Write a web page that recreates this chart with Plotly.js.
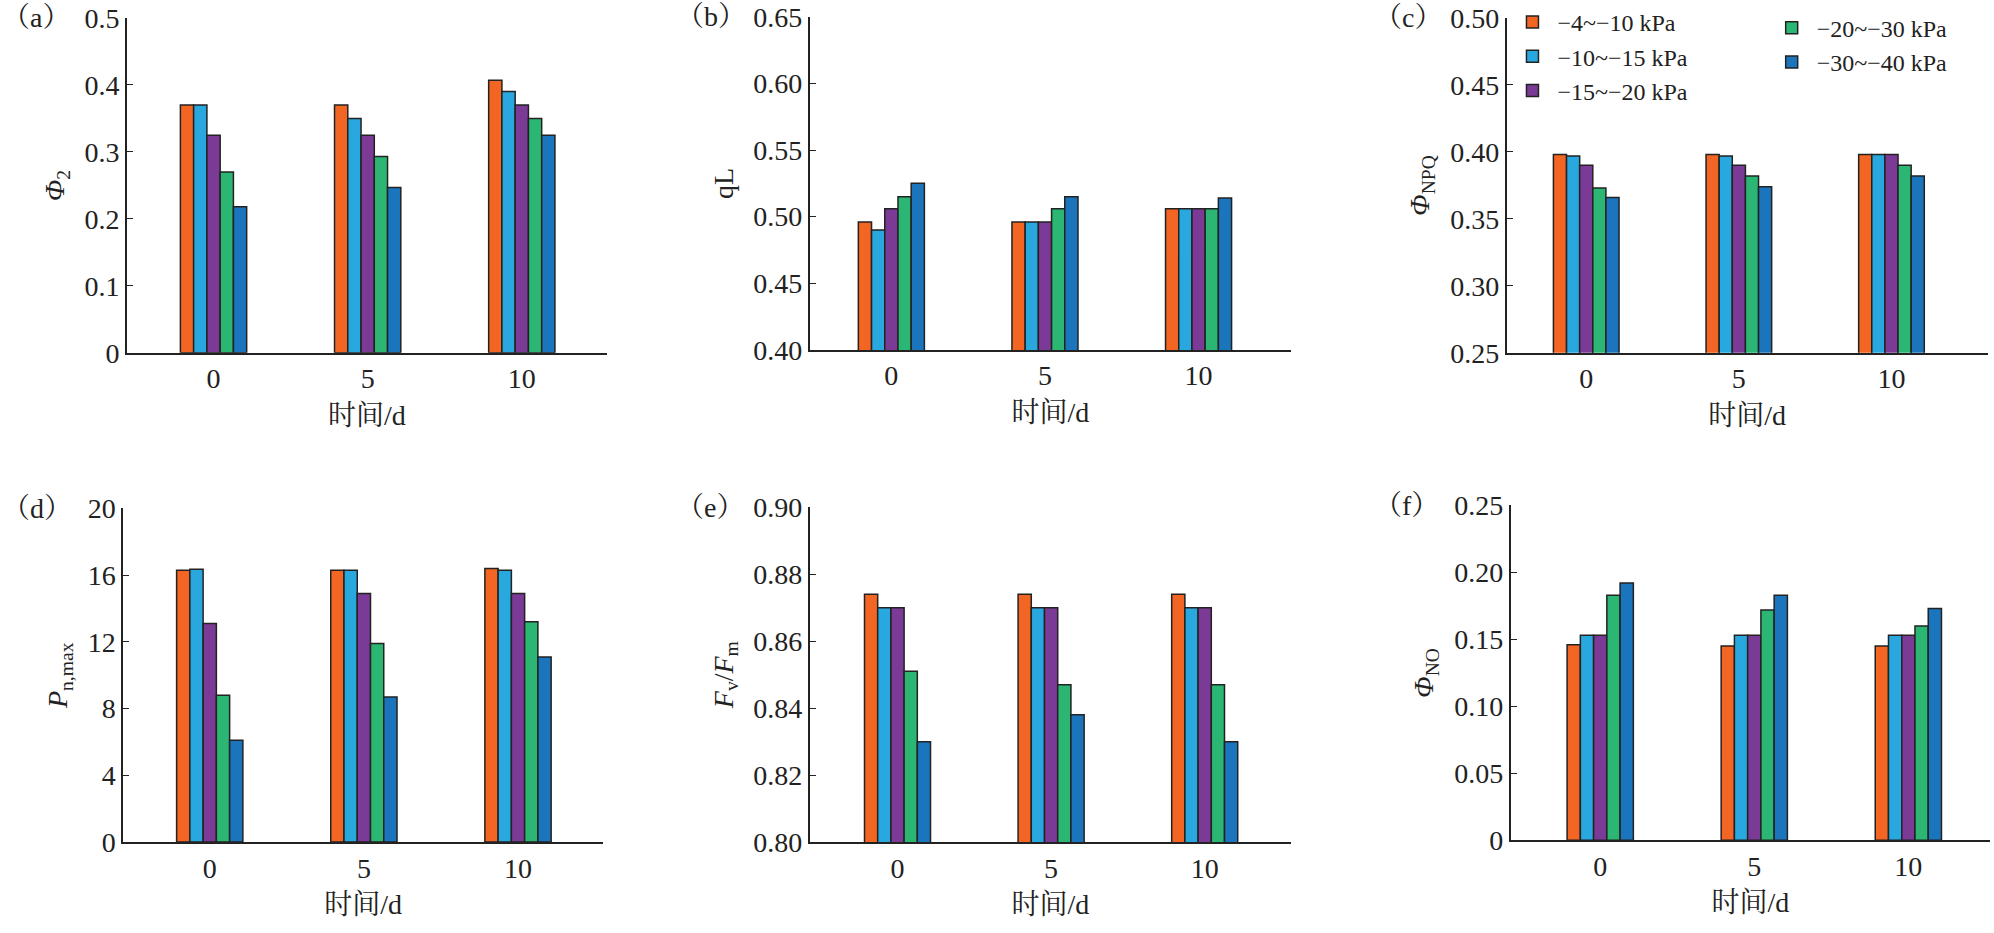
<!DOCTYPE html>
<html><head><meta charset="utf-8">
<script src="https://cdn.plot.ly/plotly-3.0.1.min.js"></script>
<style>body{margin:0;background:#fff}#g{width:1994px;height:933px}</style>
</head><body><div id="g"></div>
<script>
const days = ['0','5','10'];
const seriesNames = ['−4~−10 kPa','−10~−15 kPa','−15~−20 kPa','−20~−30 kPa','−30~−40 kPa'];
const colors = ['#F26522','#29A8E0','#7B3A96','#2BB673','#1B75BC'];
// values per series: [day0, day5, day10]
const phi2 = [[0.370,0.370,0.407],[0.370,0.350,0.390],[0.325,0.325,0.370],[0.270,0.293,0.350],[0.218,0.247,0.325]];
const qL   = [[0.496,0.496,0.506],[0.490,0.496,0.506],[0.506,0.496,0.506],[0.515,0.506,0.506],[0.525,0.515,0.514]];
const phiNPQ = [[0.398,0.398,0.398],[0.397,0.397,0.398],[0.390,0.390,0.398],[0.373,0.382,0.390],[0.366,0.374,0.382]];
const pnmax = [[16.3,16.3,16.4],[16.35,16.3,16.3],[13.1,14.9,14.9],[8.8,11.9,13.2],[6.1,8.7,11.1]];
const fvfm = [[0.874,0.874,0.874],[0.870,0.870,0.870],[0.870,0.870,0.870],[0.851,0.847,0.847],[0.830,0.838,0.830]];
const phiNO = [[0.146,0.145,0.145],[0.153,0.153,0.153],[0.153,0.153,0.153],[0.183,0.172,0.160],[0.192,0.183,0.173]];

const panels = [
 {d:phi2, lab:'（a）', yt:'<i>Φ</i><sub>2</sub>', yr:[0,0.5], dt:0.1, fmt:'', x:[0.0638,0.3042], y:[0.6218,0.9808], xr:[-0.56,2.55], lx:0.0},
 {d:qL, lab:'（b）', yt:'qL', yr:[0.40,0.65], dt:0.05, fmt:'.2f', x:[0.4062,0.6473], y:[0.625,0.982], xr:[-0.53,2.6], lx:0.338},
 {d:phiNPQ, lab:'（c）', yt:'<i>Φ</i><sub>NPQ</sub>', yr:[0.25,0.50], dt:0.05, fmt:'.2f', x:[0.7557,0.9968], y:[0.6218,0.9808], xr:[-0.52,2.63], lx:0.688},
 {d:pnmax, lab:'（d）', yt:'<i>P</i><sub>n,max</sub>', yr:[0,20], dt:4, fmt:'', x:[0.0619,0.3023], y:[0.0974,0.4551], xr:[-0.56,2.55], lx:0.0},
 {d:fvfm, lab:'（e）', yt:'<i>F</i><sub>v</sub>/<i>F</i><sub>m</sub>', yr:[0.80,0.90], dt:0.02, fmt:'.2f', x:[0.4062,0.6473], y:[0.0974,0.4564], xr:[-0.57,2.56], lx:0.338},
 {d:phiNO, lab:'（f）', yt:'<i>Φ</i><sub>NO</sub>', yr:[0,0.25], dt:0.05, fmt:'.2f', x:[0.7577,0.998], y:[0.0994,0.4583], xr:[-0.58,2.53], lx:0.688}
];
const F = "'Liberation Serif', 'Times New Roman', 'Noto Serif CJK SC', 'Noto Sans CJK SC', serif";
const traces = [], layout = {
  width:1994, height:933, margin:{l:0,r:0,t:0,b:0}, paper_bgcolor:'#fff', plot_bgcolor:'#fff',
  font:{family:F, size:28, color:'#222'}, barmode:'group', bargap:0.57, bargroupgap:0,
  annotations:[],
  legend:{x:0.756, y:1.0, xanchor:'left', yanchor:'top', bgcolor:'rgba(0,0,0,0)', font:{family:F, size:24}, tracegroupgap:0, itemwidth:40},
  legend2:{x:0.886, y:0.994, xanchor:'left', yanchor:'top', bgcolor:'rgba(0,0,0,0)', font:{family:F, size:24}, tracegroupgap:0, itemwidth:40}
};
panels.forEach((p,i)=>{
  const n = i===0?'':String(i+1);
  const tv=[], tt=[];
  for(let v=p.yr[0]; v<=p.yr[1]+1e-9; v+=p.dt){ tv.push(+v.toFixed(4)); tt.push(v<1e-9?'0':(p.fmt?v.toFixed(2):String(+v.toFixed(2)))); }
  layout['xaxis'+n] = {domain:p.x, anchor:'y'+n, range:p.xr, tickvals:[0,1,2], ticktext:days, ticks:'', showline:true, linecolor:'#222', linewidth:2, showgrid:false, zeroline:false,
    title:{text:'时间/d', font:{family:F, size:28}, standoff:12}, tickfont:{family:F, size:28}};
  layout['yaxis'+n] = {domain:p.y, anchor:'x'+n, range:p.yr, tickvals:tv, ticktext:tt, ticks:'inside', ticklen:6, tickcolor:'#222', showline:true, linecolor:'#222', linewidth:2, showgrid:false, zeroline:false,
    title:{text:p.yt, font:{family:F, size:28}, standoff:12}, tickfont:{family:F, size:28}};
  layout.annotations.push({xref:'paper', yref:'paper', x:p.lx, y:p.y[1], xanchor:'left', yanchor:'middle', text:p.lab, showarrow:false, font:{family:F, size:28}});
  p.d.forEach((vals,s)=>{
    traces.push({type:'bar', x:[0,1,2], y:vals, name:seriesNames[s], xaxis:'x'+n, yaxis:'y'+n,
      marker:{color:colors[s], line:{color:'#222', width:1.5}}, showlegend:i===2,
      legend: s<3?'legend':'legend2', hoverinfo:'skip'});
  });
});
Plotly.newPlot('g', traces, layout, {displayModeBar:false, staticPlot:true});
</script></body></html>
